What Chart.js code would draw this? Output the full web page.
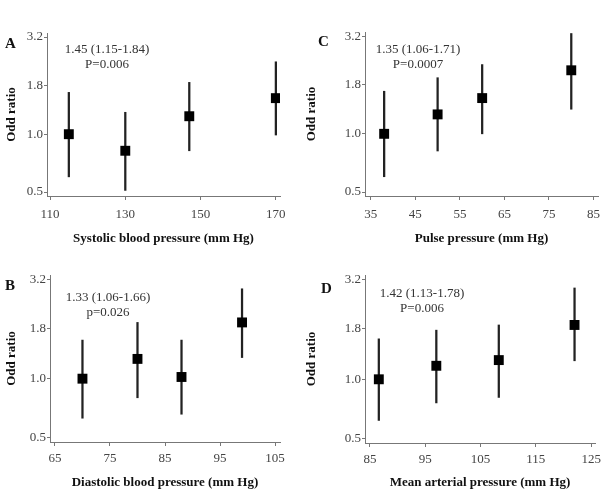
<!DOCTYPE html>
<html>
<head>
<meta charset="utf-8">
<script src="https://cdn.jsdelivr.net/npm/chart.js@4/dist/chart.umd.min.js"></script>
<style>
    body { margin: 0; background: #fff; width: 611px; height: 498px; position: relative; overflow: hidden; font-family: "Liberation Serif", "Times New Roman", serif; }
    .panel { position: absolute; }
    .letter { position: absolute; font-weight: bold; font-size: 15px; color: #111; line-height: 1; }
    .note { position: absolute; font-size: 13px; color: #333; text-align: center; line-height: 15px; transform: translateX(-50%); white-space: nowrap; }
</style>
</head>
<body>
<div class="panel" style="left:0;top:0;width:300px;height:250px"><canvas id="chart-a"></canvas></div>
<div class="panel" style="left:300px;top:0;width:311px;height:250px"><canvas id="chart-c"></canvas></div>
<div class="panel" style="left:0;top:250px;width:300px;height:248px"><canvas id="chart-b"></canvas></div>
<div class="panel" style="left:300px;top:250px;width:311px;height:248px"><canvas id="chart-d"></canvas></div>

<div class="letter" style="left:5px;top:36px">A</div>
<div class="letter" style="left:318px;top:34px">C</div>
<div class="letter" style="left:5px;top:278px">B</div>
<div class="letter" style="left:321px;top:281px">D</div>

<div class="note" style="left:107px;top:41px">1.45 (1.15-1.84)<br>P=0.006</div>
<div class="note" style="left:418px;top:41px">1.35 (1.06-1.71)<br>P=0.0007</div>
<div class="note" style="left:108px;top:289px">1.33 (1.06-1.66)<br>p=0.026</div>
<div class="note" style="left:422px;top:285px">1.42 (1.13-1.78)<br>P=0.006</div>

<script>
// 공통 y축 (odds ratio, log)
const yTicks = [0.5, 1.0, 1.8, 3.2];

// A: systolic
const sbpTicks = [110, 130, 150, 170];
const sbpX = [115, 130, 147, 170];
const sbpOR = [1.0, 0.82, 1.24, 1.54];
const sbpLo = [0.60, 0.51, 0.82, 0.99];
const sbpHi = [1.65, 1.30, 1.86, 2.38];

// C: pulse
const ppTicks = [35, 45, 55, 65, 75, 85];
const ppX = [38, 50, 60, 80];
const ppOR = [1.0, 1.26, 1.53, 2.13];
const ppLo = [0.60, 0.815, 1.0, 1.34];
const ppHi = [1.66, 1.95, 2.28, 3.3];

// B: diastolic
const dbpTicks = [65, 75, 85, 95, 105];
const dbpX = [70, 80, 88, 99];
const dbpOR = [1.0, 1.26, 1.02, 1.93];
const dbpLo = [0.63, 0.80, 0.66, 1.28];
const dbpHi = [1.57, 1.93, 1.57, 2.86];

// D: mean arterial
const mapTicks = [85, 95, 105, 115, 125];
const mapX = [86.6, 97, 108.3, 122];
const mapOR = [1.0, 1.17, 1.25, 1.88];
const mapLo = [0.62, 0.76, 0.81, 1.24];
const mapHi = [1.60, 1.77, 1.88, 2.89];

const axisColor = '#777';
const tickFont = { family: '"Liberation Serif", serif', size: 13 };
const titleFont = { family: '"Liberation Serif", serif', size: 13, weight: 'bold' };

function makePanel(id, p) {
    const ctx = document.getElementById(id);
    return new Chart(ctx.getContext('2d'), {
        type: 'scatter',
        data: {
            datasets: [{
                type: 'bar',
                data: p.x.map((x, i) => ({ x: x, y: [p.lo[i], p.hi[i]] })),
                backgroundColor: '#222',
                barThickness: 1.6,
                grouped: false,
                order: 2,
            }, {
                type: 'scatter',
                data: p.x.map((x, i) => ({ x: x, y: p.or[i] })),
                pointStyle: 'rect',
                pointRadius: 7,
                pointBorderWidth: 0,
                backgroundColor: '#000',
                order: 1,
            }]
        },
        options: {
            responsive: true,
            maintainAspectRatio: false,
            animation: false,
            layout: { padding: { top: p.top, right: p.right, left: 0, bottom: 0 } },
            plugins: { legend: { display: false }, tooltip: { enabled: false } },
            scales: {
                x: {
                    type: 'linear',
                    offset: false,
                    min: p.min,
                    max: p.max,
                    afterBuildTicks: s => { s.ticks = p.ticks.map(v => ({ value: v })); },
                    afterFit: s => { s.height = p.xh; },
                    ticks: { font: tickFont, color: '#444', padding: p.xpad, maxRotation: 0 },
                    grid: { display: true, offset: false, drawOnChartArea: false, tickLength: 4, color: axisColor },
                    border: { display: true, color: axisColor },
                    title: { display: true, text: p.xtitle, font: titleFont, color: '#111', padding: { top: 4, bottom: p.tpad } }
                },
                y: {
                    type: 'logarithmic',
                    min: 0.477,
                    max: 3.36,
                    afterBuildTicks: s => { s.ticks = yTicks.map(v => ({ value: v })); },
                    afterFit: s => { s.width = p.yw; },
                    ticks: { font: tickFont, color: '#444', padding: 1, callback: v => Number(v).toFixed(1) },
                    grid: { display: true, drawOnChartArea: false, tickLength: 3, color: axisColor },
                    border: { display: true, color: axisColor },
                    title: { display: true, text: 'Odd ratio', font: titleFont, color: '#111' }
                }
            }
        }
    });
}

makePanel('chart-a', { x: sbpX, or: sbpOR, lo: sbpLo, hi: sbpHi, ticks: sbpTicks, min: 109.2, max: 171.1,
    xtitle: 'Systolic blood pressure (mm Hg)', top: 33, right: 20, yw: 47, xh: 54, xpad: 7, tpad: 4 });
makePanel('chart-c', { x: ppX, or: ppOR, lo: ppLo, hi: ppHi, ticks: ppTicks, min: 33.7, max: 86,
    xtitle: 'Pulse pressure (mm Hg)', top: 32, right: 13, yw: 65, xh: 54, xpad: 7, tpad: 4 });
makePanel('chart-b', { x: dbpX, or: dbpOR, lo: dbpLo, hi: dbpHi, ticks: dbpTicks, min: 64.1, max: 105.9,
    xtitle: 'Diastolic blood pressure (mm Hg)', top: 25, right: 20, yw: 50, xh: 56, xpad: 5, tpad: 8 });
makePanel('chart-d', { x: mapX, or: mapOR, lo: mapLo, hi: mapHi, ticks: mapTicks, min: 84.1, max: 125.7,
    xtitle: 'Mean arterial pressure (mm Hg)', top: 25, right: 16, yw: 65, xh: 55, xpad: 5, tpad: 8 });
</script>
</body>
</html>
